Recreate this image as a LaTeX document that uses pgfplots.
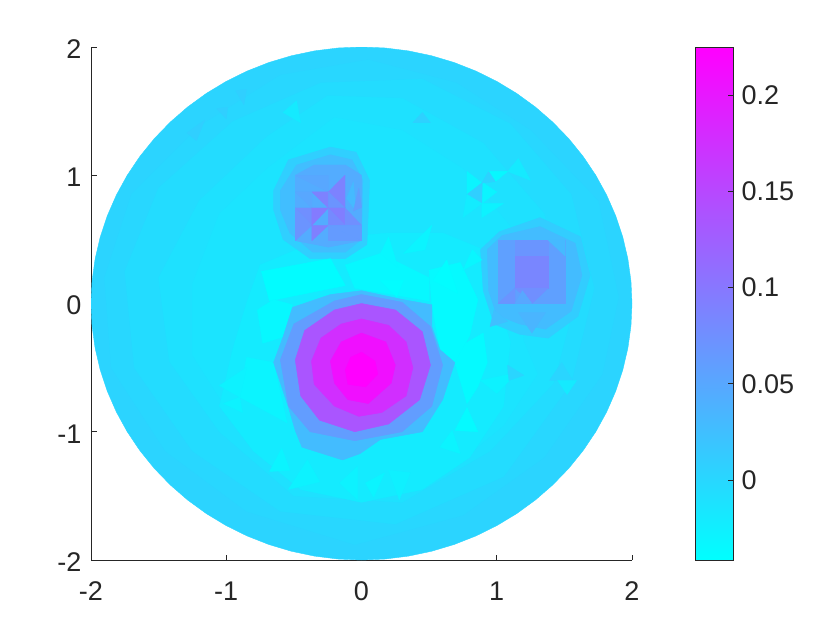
\documentclass[border=0pt]{standalone}
\usepackage{fontspec}
\setmainfont{Liberation Sans}
\usepackage{pgfplots}
\usepgfplotslibrary{patchplots}
\pgfplotsset{compat=1.18}
\definecolor{ax}{gray}{0.15}
\pgfplotsset{poly/.style 2 args={patch,patch type=polygon,vertex count=#1,shader=flat,point meta=#2}}
\begin{document}
\begin{tikzpicture}[x=1pt,y=1pt]
\path[use as bounding box] (0,0) rectangle (840,630);
\begin{axis}[
  at={(91pt,70pt)},anchor=south west,scale only axis,width=541pt,height=513pt,
  xmin=-2,xmax=2,ymin=-2,ymax=2,
  axis x line*=bottom,axis y line*=left,
  axis line style={ax,line width=0.8pt,-},
  xtick={-2,-1,0,1,2},ytick={-2,-1,0,1,2},
  xticklabels={-2,-1,0,1,2},yticklabels={-2,-1,0,1,2},
  tick align=inside,major tick length=5.5pt,
  tick style={ax,line width=0.8pt},
  xticklabel style={font=\fontsize{27}{27}\selectfont,text=ax,yshift=-18pt},
  yticklabel style={font=\fontsize{27}{27}\selectfont,text=ax,xshift=-6pt,yshift=-2pt},
  colormap={mycool}{rgb=(0,1,1) rgb=(1,0,1)},colormap name=mycool,
  point meta min=-0.0416,point meta max=0.225,
]
% disk
\addplot[poly={72}{0.003}] table[row sep=\\]{
2 0\\1.99239 0.17431\\1.96962 0.3473\\1.93185 0.51764\\1.87939 0.68404\\1.81262 0.84524\\1.73205 1\\1.6383 1.14715\\1.53209 1.28558\\1.41421 1.41421\\1.28558 1.53209\\1.14715 1.6383\\1 1.73205\\0.84524 1.81262\\0.68404 1.87939\\0.51764 1.93185\\0.3473 1.96962\\0.17431 1.99239\\
0 2\\-0.17431 1.99239\\-0.3473 1.96962\\-0.51764 1.93185\\-0.68404 1.87939\\-0.84524 1.81262\\-1 1.73205\\-1.14715 1.6383\\-1.28558 1.53209\\-1.41421 1.41421\\-1.53209 1.28558\\-1.6383 1.14715\\-1.73205 1\\-1.81262 0.84524\\-1.87939 0.68404\\-1.93185 0.51764\\-1.96962 0.3473\\-1.99239 0.17431\\
-2 0\\-1.99239 -0.17431\\-1.96962 -0.3473\\-1.93185 -0.51764\\-1.87939 -0.68404\\-1.81262 -0.84524\\-1.73205 -1\\-1.6383 -1.14715\\-1.53209 -1.28558\\-1.41421 -1.41421\\-1.28558 -1.53209\\-1.14715 -1.6383\\-1 -1.73205\\-0.84524 -1.81262\\-0.68404 -1.87939\\-0.51764 -1.93185\\-0.3473 -1.96962\\-0.17431 -1.99239\\
0 -2\\0.17431 -1.99239\\0.3473 -1.96962\\0.51764 -1.93185\\0.68404 -1.87939\\0.84524 -1.81262\\1 -1.73205\\1.14715 -1.6383\\1.28558 -1.53209\\1.41421 -1.41421\\1.53209 -1.28558\\1.6383 -1.14715\\1.73205 -1\\1.81262 -0.84524\\1.87939 -0.68404\\1.93185 -0.51764\\1.96962 -0.3473\\1.99239 -0.17431\\
};
% broad regions
\addplot[poly={16}{0.0}] table[row sep=\\]{
1.9 0.05\\1.75 0.8\\1.25 1.35\\0.7 1.72\\0.05 1.9\\-0.6 1.78\\-1.2 1.38\\-1.7 0.85\\-1.9 0.2\\-1.85 -0.5\\-1.45 -1.15\\-0.85 -1.62\\-0.05 -1.88\\0.75 -1.65\\1.35 -1.2\\1.78 -0.55\\
};
\addplot[poly={14}{-0.005}] table[row sep=\\]{
1.72 0.12\\1.55 0.85\\1.1 1.4\\0.45 1.75\\-0.3 1.72\\-0.95 1.42\\-1.5 0.9\\-1.75 0.25\\-1.68 -0.5\\-1.25 -1.15\\-0.6 -1.62\\0.25 -1.72\\1.05 -1.35\\1.55 -0.62\\
};
\addplot[poly={14}{-0.01}] table[row sep=\\]{
1.55 -0.1\\1.35 0.7\\0.9 1.25\\0.3 1.6\\-0.25 1.62\\-0.7 1.3\\-1.2 0.8\\-1.5 0.2\\-1.42 -0.45\\-1.05 -1.0\\-0.5 -1.5\\0.3 -1.55\\0.95 -1.15\\1.42 -0.62\\
};
\addplot[poly={15}{-0.014}] table[row sep=\\]{
1.2 -0.3\\1.1 0.6\\0.75 1.05\\0.3 1.35\\-0.2 1.45\\-0.7 1.05\\-1.05 0.7\\-1.25 0.15\\-1.25 -0.4\\-0.95 -0.9\\-0.55 -1.3\\0.1 -1.45\\0.65 -1.3\\1.05 -0.95\\1.3 -0.55\\
};
% cyan halo around central blob
\addplot[poly={16}{-0.021}] table[row sep=\\]{
0.9 0.42\\0.98 0.1\\1.1 -0.3\\1.05 -0.8\\0.8 -1.2\\0.45 -1.45\\0 -1.55\\-0.45 -1.45\\-0.8 -1.15\\-1.05 -0.8\\-0.95 -0.35\\-0.85 0\\-0.75 0.3\\-0.3 0.5\\0.2 0.55\\0.6 0.55\\
};
% blob upper left
\addplot[poly={10}{0.008}] table[row sep=\\]{
-0.65 0.88\\-0.54 1.12\\-0.23 1.22\\-0.04 1.18\\0.06 0.96\\0.04 0.46\\-0.12 0.35\\-0.38 0.35\\-0.58 0.5\\-0.65 0.73\\
};
\addplot[poly={10}{0.026}] table[row sep=\\]{
-0.6 0.88\\-0.48 1.08\\-0.23 1.16\\-0.07 1.12\\0.01 0.96\\0 0.5\\-0.12 0.4\\-0.36 0.4\\-0.53 0.55\\-0.6 0.73\\
};
\addplot[poly={7}{0.045}] table[row sep=\\]{
-0.49 1.0\\-0.35 1.08\\-0.12 1.08\\0 1.0\\0 0.49\\-0.245 0.44\\-0.49 0.49\\
};
% blob right
\addplot[poly={10}{0.01}] table[row sep=\\]{
0.88 0.42\\1.02 0.56\\1.32 0.67\\1.62 0.52\\1.69 0.22\\1.6 -0.1\\1.38 -0.27\\1.17 -0.24\\0.98 -0.16\\0.9 0.1\\
};
\addplot[poly={10}{0.028}] table[row sep=\\]{
0.93 0.42\\1.04 0.53\\1.32 0.6\\1.58 0.47\\1.63 0.22\\1.55 -0.06\\1.36 -0.2\\1.17 -0.16\\1.0 -0.09\\0.94 0.1\\
};
\addplot[poly={4}{0.057}] table[row sep=\\]{
1.01 0.495\\1.505 0.495\\1.505 0\\1.01 0\\
};
\addplot[poly={4}{0.068}] table[row sep=\\]{
1.135 0.495\\1.38 0.495\\1.38 0.12\\1.135 0.12\\
};
\addplot[poly={4}{0.084}] table[row sep=\\]{
1.135 0.37\\1.38 0.37\\1.38 0.12\\1.135 0.12\\
};
% strong cyan areas
\addplot[poly={5}{-0.039}] table[row sep=\\]{
-0.74 0.25\\-0.23 0.35\\-0.12 0.14\\-0.45 0.07\\-0.68 0.02\\
};
\addplot[poly={7}{-0.036}] table[row sep=\\]{
0.52 -0.01\\0.5 0.26\\0.73 0.32\\0.86 0.03\\0.8 -0.25\\0.69 -0.46\\0.58 -0.36\\
};
\addplot[poly={6}{-0.036}] table[row sep=\\]{
0.77 -0.31\\0.9 -0.23\\0.93 -0.46\\0.86 -0.65\\0.78 -0.78\\0.69 -0.46\\
};
\addplot[poly={5}{-0.034}] table[row sep=\\]{
-0.77 -0.05\\-0.65 0.03\\-0.51 -0.01\\-0.58 -0.26\\-0.73 -0.31\\
};
\addplot[poly={4}{-0.03}] table[row sep=\\]{
-0.85 -0.42\\-0.65 -0.46\\-0.55 -0.93\\-0.9 -0.73\\
};
\addplot[poly={5}{-0.034}] table[row sep=\\]{
-0.12 0.3\\0.14 0.39\\0.5 0.2\\0.5 0.02\\-0.05 0.12\\
};
% small triangles
\addplot[patch,shader=flat,point meta=explicit] table[row sep=\\,meta index=2]{
0.78 1.03 -0.03\\0.89 0.94 -0.03\\0.78 0.85 -0.03\\
0.9 0.94 -0.03\\1.0 0.87 -0.03\\0.89 0.78 -0.03\\
0.94 1.03 -0.033\\1.08 1.03 -0.033\\0.99 0.95 -0.033\\
0.78 0.85 0.008\\0.89 0.94 0.008\\0.89 0.78 0.008\\
0.89 0.94 0.005\\0.94 1.03 0.005\\0.99 0.95 0.005\\
1.08 1.03 -0.02\\1.16 1.13 -0.02\\1.25 0.96 -0.02\\
0.75 0.67 -0.022\\0.78 0.85 -0.022\\0.89 0.78 -0.022\\
0.89 0.67 -0.028\\0.89 0.78 -0.028\\1.05 0.78 -0.028\\
0.38 1.41 0.006\\0.51 1.41 0.006\\0.45 1.49 0.006\\
0.14 0.39 -0.033\\0.2 0.52 -0.033\\0.27 0.28 -0.033\\
0.31 0.39 -0.03\\0.52 0.61 -0.03\\0.47 0.42 -0.03\\
0.53 0.18 -0.04\\0.63 0.34 -0.04\\0.71 0.08 -0.04\\
0.75 0.26 -0.032\\0.82 0.42 -0.032\\0.89 0.34 -0.032\\
0.14 0.18 -0.04\\0.26 0.05 -0.04\\0.31 0.18 -0.04\\
-1.05 -0.64 -0.028\\-0.85 -0.5 -0.028\\-0.9 -0.73 -0.028\\
-1.02 -0.78 -0.028\\-0.9 -0.73 -0.028\\-0.88 -0.85 -0.028\\
-0.68 -1.31 -0.03\\-0.59 -1.13 -0.03\\-0.53 -1.3 -0.03\\
-0.54 -1.45 -0.028\\-0.4 -1.22 -0.028\\-0.31 -1.39 -0.028\\
-0.16 -1.4 -0.028\\-0.03 -1.27 -0.028\\-0.03 -1.53 -0.028\\
0.03 -1.4 -0.03\\0.17 -1.32 -0.03\\0.09 -1.51 -0.03\\
0.2 -1.3 -0.026\\0.36 -1.32 -0.026\\0.28 -1.53 -0.026\\
0.58 -1.12 -0.03\\0.67 -0.99 -0.03\\0.73 -1.17 -0.03\\
0.69 -0.99 -0.036\\0.78 -0.81 -0.036\\0.86 -1.0 -0.036\\
0.88 -0.6 -0.028\\1.15 -0.54 -0.028\\1.0 -0.7 -0.028\\
1.08 -0.48 0.002\\1.2 -0.56 0.002\\1.09 -0.6 0.002\\
1.39 -0.6 0.002\\1.56 -0.6 0.002\\1.48 -0.46 0.002\\
1.45 -0.6 -0.02\\1.59 -0.6 -0.02\\1.52 -0.71 -0.02\\
1.26 -0.23 0.035\\1.16 -0.07 0.035\\1.36 -0.07 0.035\\
0.95 -0.18 0.025\\1.08 -0.14 0.025\\0.98 -0.05 0.025\\
-1.29 1.33 0.008\\-1.16 1.43 0.008\\-1.22 1.27 0.008\\
-1.07 1.52 0.008\\-0.99 1.53 0.008\\-1.0 1.44 0.008\\
-0.93 1.66 0.008\\-0.85 1.67 0.008\\-0.87 1.55 0.008\\
-0.58 1.49 -0.02\\-0.48 1.58 -0.02\\-0.45 1.41 -0.02\\
% lattice upper left
-0.49 1.0 0.05\\-0.245 1.0 0.05\\-0.245 0.87 0.05\\
-0.367 0.87 0.088\\-0.245 0.87 0.088\\-0.245 0.745 0.088\\
-0.49 0.87 0.05\\-0.367 0.87 0.05\\-0.367 0.745 0.05\\
-0.122 1.0 0.088\\-0.122 0.745 0.088\\-0.245 0.87 0.088\\
-0.245 0.87 0.07\\-0.245 0.745 0.07\\-0.122 0.745 0.07\\
-0.49 0.745 0.075\\-0.367 0.745 0.075\\-0.367 0.61 0.075\\
-0.49 0.745 0.07\\-0.367 0.61 0.07\\-0.49 0.49 0.07\\
-0.367 0.745 0.095\\-0.245 0.745 0.095\\-0.367 0.61 0.095\\
-0.367 0.61 0.09\\-0.245 0.61 0.09\\-0.367 0.49 0.09\\
-0.245 0.745 0.092\\-0.122 0.745 0.092\\-0.122 0.61 0.092\\
-0.245 0.745 0.08\\-0.122 0.61 0.08\\-0.245 0.61 0.08\\
-0.122 0.745 0.075\\0 0.61 0.075\\-0.122 0.61 0.075\\
-0.245 0.61 0.062\\0 0.61 0.062\\0 0.49 0.062\\
-0.245 0.61 0.062\\0 0.49 0.062\\-0.245 0.49 0.062\\
-0.06 0.95 0.03\\-0.04 0.72 0.03\\-0.11 0.82 0.03\\
-0.02 0.9 0.06\\0 0.75 0.06\\-0.06 0.72 0.06\\
% lattice right
1.38 0.495 0.03\\1.505 0.495 0.03\\1.505 0.37 0.03\\
1.01 0 0.07\\1.135 0 0.07\\1.135 0.12 0.07\\
1.135 0.12 0.075\\1.26 0 0.075\\1.38 0.12 0.075\\
1.135 0 0.05\\1.26 0 0.05\\1.19 0.1 0.05\\
};
% central blob
\addplot[poly={18}{0.028}] table[row sep=\\]{
0 0.1\\0.31 0.03\\0.52 -0.01\\0.52 -0.18\\0.58 -0.36\\0.69 -0.46\\0.6 -0.75\\0.45 -1.0\\0.14 -1.06\\-0.01 -1.17\\-0.14 -1.22\\-0.44 -1.12\\-0.49 -0.99\\-0.54 -0.81\\-0.65 -0.46\\-0.58 -0.26\\-0.51 -0.03\\-0.23 0.07\\
};
\addplot[poly={12}{0.06}] table[row sep=\\]{
0 0.07\\0.3 0.01\\0.51 -0.18\\0.6 -0.48\\0.52 -0.8\\0.3 -1\\-0.05 -1.07\\-0.38 -1\\-0.54 -0.8\\-0.6 -0.44\\-0.5 -0.16\\-0.2 0.02\\
};
\addplot[poly={12}{0.135}] table[row sep=\\]{
0 0\\0.25 -0.05\\0.45 -0.22\\0.51 -0.48\\0.43 -0.75\\0.2 -0.94\\-0.05 -1\\-0.31 -0.91\\-0.45 -0.72\\-0.49 -0.44\\-0.42 -0.21\\-0.2 -0.05\\
};
\addplot[poly={12}{0.175}] table[row sep=\\]{
0 -0.12\\0.2 -0.17\\0.33 -0.3\\0.38 -0.5\\0.33 -0.72\\0.15 -0.85\\-0.02 -0.88\\-0.2 -0.8\\-0.35 -0.63\\-0.37 -0.45\\-0.3 -0.27\\-0.15 -0.16\\
};
\addplot[poly={9}{0.208}] table[row sep=\\]{
0 -0.23\\0.18 -0.3\\0.25 -0.48\\0.22 -0.62\\0.05 -0.78\\-0.1 -0.75\\-0.2 -0.62\\-0.23 -0.45\\-0.15 -0.3\\
};
\addplot[poly={7}{0.225}] table[row sep=\\]{
0 -0.38\\0.1 -0.45\\0.12 -0.55\\0.03 -0.65\\-0.1 -0.63\\-0.12 -0.52\\-0.08 -0.42\\
};
\end{axis}
% colour bar
\begin{axis}[
  at={(695pt,70pt)},anchor=south west,scale only axis,width=38pt,height=513pt,
  xmin=0,xmax=1,ymin=-0.0416,ymax=0.225,
  xtick=\empty,
  ytick={0,0.05,0.1,0.15,0.2},yticklabels={0,0.05,0.1,0.15,0.2},
  ytick pos=right,yticklabel pos=right,
  yticklabel style={font=\fontsize{27}{27}\selectfont,text=ax,xshift=5pt},
  major tick length=5.5pt,tick align=inside,ytick style={ax,line width=0.8pt},
  axis line style={ax,line width=0.8pt},
  axis on top,
  colormap={mycool}{rgb=(0,1,1) rgb=(1,0,1)},colormap name=mycool,
  point meta min=-0.0416,point meta max=0.225,
]
\addplot[surf,shader=interp,mesh/rows=2,point meta=y] table[row sep=\\]{
0 -0.0416\\1 -0.0416\\0 0.225\\1 0.225\\
};
\end{axis}
\end{tikzpicture}
\end{document}
